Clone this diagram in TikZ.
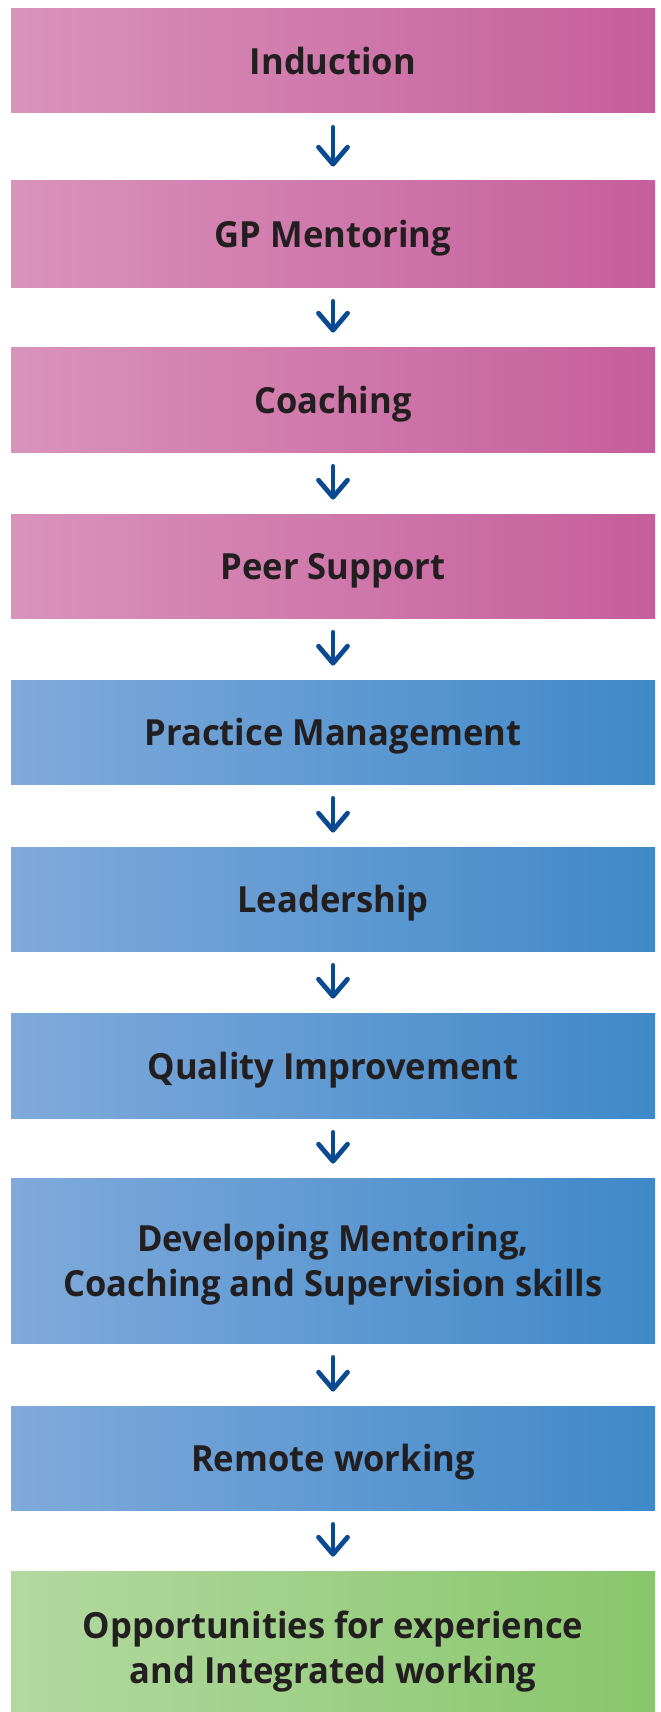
\documentclass[tikz,border=0pt]{standalone}
\usepackage{fontspec}
\setmainfont{Open Sans}[FakeStretch=0.96]
\usetikzlibrary{positioning, arrows.meta}
\definecolor{pinkL}{HTML}{D993BB}
\definecolor{pinkR}{HTML}{C65E9C}
\definecolor{blueL}{HTML}{80AADB}
\definecolor{blueR}{HTML}{3F89C9}
\definecolor{greenL}{HTML}{B3D9A1}
\definecolor{greenR}{HTML}{88C66B}
\definecolor{arrowblue}{HTML}{0B4A91}
\definecolor{textdark}{HTML}{231F20}
\tikzstyle{stage}=[minimum width=322pt, inner sep=0pt, align=center, text depth=0pt, text=textdark, font=\bfseries\fontsize{18}{22.5}\selectfont, left color=#1L, right color=#1R]
\tikzstyle{arrow}=[-{Straight Barb[length=8.5pt, width=14.5pt, round]}, line width=2.4pt, arrowblue, line cap=round, shorten <=7pt, shorten >=7pt]

\begin{document}
\begin{tikzpicture}[x=0.5pt, y=-0.5pt]
  \useasboundingbox (0,0) rectangle (660,1712);
  \foreach \txt/\yc/\h/\clr [count=\i] in {
      Induction/61/104/pink,
      GP Mentoring/234/106/pink,
      Coaching/399.5/105/pink,
      Peer Support/566/104/pink,
      Practice Management/732/104/blue,
      Leadership/899/104/blue,
      Quality Improvement/1065.5/105/blue,
      Developing Mentoring{,}\\ Coaching and Supervision skills/1260.5/165/blue,
      Remote working/1458/104/blue,
      Opportunities for experience\\ and Integrated working/1647/152/green}{
    \node [stage=\clr, minimum height=\h*0.5pt] (stage-\i) at (333,\yc) {\txt};
  }
  \foreach \i [count=\j from 2] in {1,...,9}{
    \draw [arrow] (stage-\i) -- (stage-\j);
  }
\end{tikzpicture}
\end{document}
